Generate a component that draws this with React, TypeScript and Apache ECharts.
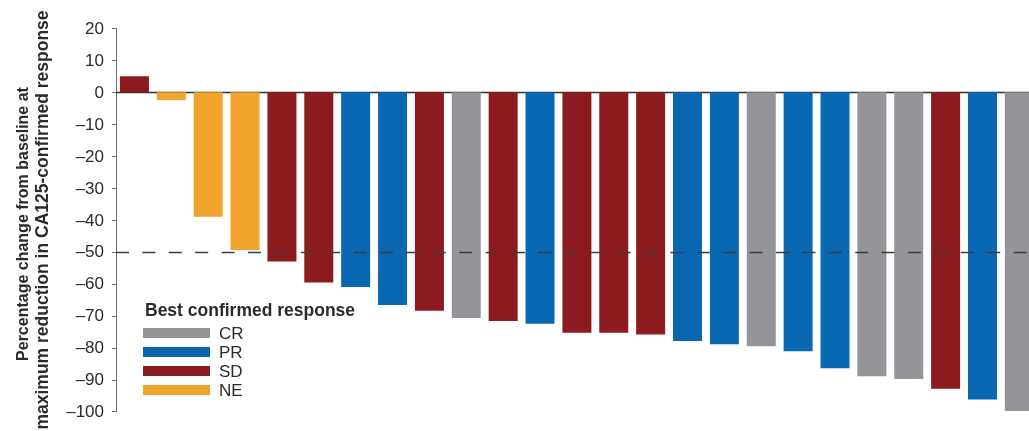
import React, { useEffect, useRef } from "react";
import * as echarts from "echarts";

const patients = [
  "P1", "P2", "P3", "P4", "P5", "P6", "P7", "P8", "P9", "P10",
  "P11", "P12", "P13", "P14", "P15", "P16", "P17", "P18", "P19", "P20",
  "P21", "P22", "P23", "P24", "P25",
];
const changes = [
  5, -2.5, -39, -49.4, -53, -59.6, -61, -66.6, -68.4, -70.7,
  -71.6, -72.5, -75.3, -75.3, -75.8, -77.9, -78.9, -79.5, -81.1, -86.4,
  -88.9, -89.8, -92.8, -96.2, -99.8,
];
const responses = [
  "SD", "NE", "NE", "NE", "SD", "SD", "PR", "PR", "SD", "CR",
  "SD", "PR", "SD", "SD", "SD", "PR", "PR", "CR", "PR", "PR",
  "CR", "CR", "SD", "PR", "CR",
];
const responseTypes = ["CR", "PR", "SD", "NE"];
const responseColors = ["#939598", "#0a67b2", "#8c1b1f", "#f0a42b"];
const yTicks = { min: -100, max: 20, step: 10 };
const threshold = -50;
const yTitleLine1 = "Percentage change from baseline at";
const yTitleLine2 = "maximum reduction in CA125-confirmed response";
const legendTitle = "Best confirmed response";

const FONT = "'Liberation Sans', Arial, Helvetica, sans-serif";

export default function App() {
  const ref = useRef<HTMLDivElement>(null);
  useEffect(() => {
    if (!ref.current) return;
    const chart = echarts.init(ref.current, null, { renderer: "svg" });
    const series: any[] = responseTypes.map((type, si) => ({
      name: type,
      type: "bar",
      stack: "all",
      barWidth: 29,
      itemStyle: { color: responseColors[si] },
      data: changes.map((v, i) => (responses[i] === type ? v : "-")),
      ...(si === 0
        ? {
            markLine: {
              silent: true,
              symbol: ["none", "none"],
              label: { show: false },
              lineStyle: { type: [13, 13.4], color: "#3d3d3d", width: 1.4 },
              data: [{ yAxis: threshold }],
              z: 10,
            },
          }
        : {}),
    }));
    chart.setOption({
      animation: false,
      textStyle: { fontFamily: FONT },
      grid: { left: 116, top: 28.3, bottom: 19.3, right: 2.2, containLabel: false },
      xAxis: {
        type: "category",
        data: patients,
        axisLine: { onZero: true, lineStyle: { color: "#333", width: 1.3 } },
        axisTick: { show: false },
        axisLabel: { show: false },
        splitLine: { show: false },
      },
      yAxis: {
        type: "value",
        min: yTicks.min,
        max: yTicks.max,
        interval: yTicks.step,
        axisLine: { show: true, lineStyle: { color: "#6d6e71", width: 1 } },
        axisTick: { show: true, length: 4, lineStyle: { color: "#6d6e71" } },
        splitLine: { show: false },
        axisLabel: {
          margin: 12,
          fontSize: 17,
          color: "#2b2b2b",
          fontFamily: FONT,
          formatter: (v: number) => (v < 0 ? "\u2013" + Math.abs(v) : String(v)),
        },
      },
      legend: {
        orient: "vertical",
        left: 143,
        top: 324.5,
        padding: 0,
        itemWidth: 67,
        itemHeight: 10,
        itemGap: 2,
        icon: "rect",
        data: responseTypes,
        textStyle: {
          fontSize: 17,
          color: "#2b2b2b",
          fontFamily: FONT,
          padding: [0, 0, 0, 4],
        },
        selectedMode: false,
      },
      graphic: [
        {
          type: "text",
          x: 145,
          y: 310,
          style: {
            text: legendTitle,
            font: `bold 17.5px ${FONT}`,
            fill: "#2b2b2b",
            verticalAlign: "middle",
            textAlign: "left",
          },
        },
        {
          type: "text",
          x: 22,
          y: 224,
          rotation: Math.PI / 2,
          style: {
            text: yTitleLine1,
            font: `bold 16px ${FONT}`,
            fill: "#2b2b2b",
            textAlign: "center",
            verticalAlign: "middle",
          },
        },
        {
          type: "text",
          x: 42,
          y: 220,
          rotation: Math.PI / 2,
          style: {
            text: yTitleLine2,
            font: `bold 17.5px ${FONT}`,
            fill: "#2b2b2b",
            textAlign: "center",
            verticalAlign: "middle",
          },
        },
      ],
      series,
    });
    return () => chart.dispose();
  }, []);
  return (
    <div
      ref={ref}
      style={{ position: "fixed", left: 0, top: 0, width: 1040, height: 431 }}
    />
  );
}
